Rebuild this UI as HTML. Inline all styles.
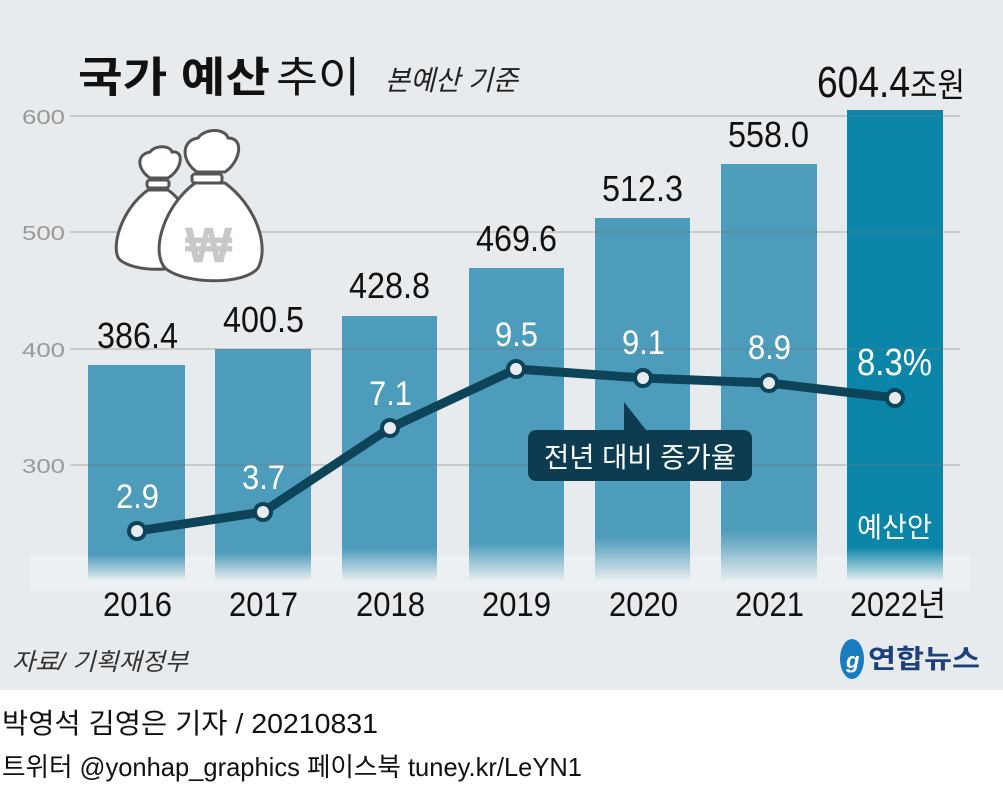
<!DOCTYPE html>
<html><head><meta charset="utf-8"><style>
body{margin:0;width:1003px;height:785px;overflow:hidden;background:#fff;font-family:"Liberation Sans","Noto Sans CJK KR",sans-serif}
</style></head><body>
<svg width="1003" height="785" xmlns="http://www.w3.org/2000/svg" style="position:absolute;left:0;top:0" font-family="Liberation Sans, Noto Sans CJK KR, sans-serif">
<defs>
<linearGradient id="g1" x1="0" y1="0" x2="0" y2="1"><stop offset="0" stop-color="#4d9cbb"/><stop offset="0.88" stop-color="#4d9cbb"/><stop offset="1" stop-color="#4d9cbb" stop-opacity="0.05"/></linearGradient>
<linearGradient id="g2" x1="0" y1="0" x2="0" y2="1"><stop offset="0" stop-color="#0b86a8"/><stop offset="0.93" stop-color="#0b86a8"/><stop offset="1" stop-color="#0b86a8" stop-opacity="0.05"/></linearGradient>
</defs>
<rect x="0" y="0" width="1003" height="690" fill="#e8ebee"/>
<rect x="30" y="555" width="940" height="36" fill="#edf0f2"/>
<text x="78" y="92" font-size="42" font-weight="bold" fill="#111" textLength="192" lengthAdjust="spacingAndGlyphs">국가 예산</text>
<text x="276" y="92" font-size="42" fill="#111" textLength="84" lengthAdjust="spacingAndGlyphs">추이</text>
<text x="385" y="90" font-size="28" font-style="italic" fill="#222" textLength="133" lengthAdjust="spacingAndGlyphs">본예산 기준</text>
<g font-size="20" fill="#999"><text x="22" y="124" textLength="43" lengthAdjust="spacingAndGlyphs">600</text><text x="22" y="240" textLength="43" lengthAdjust="spacingAndGlyphs">500</text><text x="22" y="357" textLength="43" lengthAdjust="spacingAndGlyphs">400</text><text x="22" y="473" textLength="43" lengthAdjust="spacingAndGlyphs">300</text></g>
<rect x="88" y="365" width="97" height="215" fill="url(#g1)"/>
<rect x="215" y="349" width="96" height="231" fill="url(#g1)"/>
<rect x="342" y="316" width="95" height="264" fill="url(#g1)"/>
<rect x="469" y="268" width="95" height="312" fill="url(#g1)"/>
<rect x="595" y="218" width="95" height="362" fill="url(#g1)"/>
<rect x="721" y="164" width="96" height="416" fill="url(#g1)"/>
<rect x="847" y="110" width="96" height="470" fill="url(#g2)"/>
<g stroke="#777" stroke-opacity="0.45" stroke-width="1.3">
<line x1="70" y1="116" x2="960" y2="116"/><line x1="70" y1="232" x2="960" y2="232"/><line x1="70" y1="349" x2="960" y2="349"/><line x1="70" y1="465" x2="960" y2="465"/>
</g>
<g stroke="#555" stroke-width="3" fill="#fff">
<path d="M148 190 C120 210 110 250 120 260 C135 272 175 272 190 262 C200 240 190 205 168 190 Z"/>
<path d="M150 178 C138 170 135 155 150 152 C155 145 170 145 172 152 C185 150 182 170 168 178 Z"/>
<rect x="147" y="180" width="22" height="8" rx="3"/>
<path d="M195 183 C165 205 150 250 165 268 C185 285 245 285 258 268 C270 245 255 205 225 183 Z"/>
<path d="M197 172 C180 160 182 140 198 138 C205 128 225 128 228 138 C245 138 240 162 225 172 Z"/>
<rect x="192" y="174" width="30" height="9" rx="3"/>
</g>
<text x="185" y="262" font-size="50" font-weight="bold" fill="#c8c8c8" font-family="Liberation Sans, sans-serif">₩</text>
<g font-size="36" fill="#111">
<text x="97" y="348" textLength="81" lengthAdjust="spacingAndGlyphs">386.4</text>
<text x="223" y="332" textLength="81" lengthAdjust="spacingAndGlyphs">400.5</text>
<text x="349" y="298" textLength="81" lengthAdjust="spacingAndGlyphs">428.8</text>
<text x="476" y="251" textLength="81" lengthAdjust="spacingAndGlyphs">469.6</text>
<text x="602" y="201" textLength="81" lengthAdjust="spacingAndGlyphs">512.3</text>
<text x="728" y="147" textLength="81" lengthAdjust="spacingAndGlyphs">558.0</text>
<text x="817" y="97" font-size="44" textLength="93" lengthAdjust="spacingAndGlyphs">604.4</text>
<text x="910" y="97" font-size="34" textLength="55" lengthAdjust="spacingAndGlyphs">조원</text>
</g>
<polyline points="137,531 263,512 390,428 516,369 643,378 769,383 895,398" fill="none" stroke="#0d4459" stroke-width="9" stroke-linejoin="round"/>
<g fill="#e8ebee" stroke="#0d4459" stroke-width="4">
<circle cx="137" cy="531" r="8"/><circle cx="263" cy="512" r="8"/><circle cx="390" cy="428" r="8"/><circle cx="516" cy="369" r="8"/><circle cx="643" cy="378" r="8"/><circle cx="769" cy="383" r="8"/><circle cx="895" cy="398" r="8"/>
</g>
<g font-size="34" fill="#fff">
<text x="116" y="508" textLength="43" lengthAdjust="spacingAndGlyphs">2.9</text>
<text x="242" y="489" textLength="43" lengthAdjust="spacingAndGlyphs">3.7</text>
<text x="369" y="405" textLength="43" lengthAdjust="spacingAndGlyphs">7.1</text>
<text x="495" y="346" textLength="43" lengthAdjust="spacingAndGlyphs">9.5</text>
<text x="622" y="354" textLength="43" lengthAdjust="spacingAndGlyphs">9.1</text>
<text x="748" y="359" textLength="43" lengthAdjust="spacingAndGlyphs">8.9</text>
<text x="857" y="375" font-size="38" textLength="75" lengthAdjust="spacingAndGlyphs">8.3%</text>
<text x="857" y="537" font-size="28" textLength="75" lengthAdjust="spacingAndGlyphs">예산안</text>
</g>
<path d="M624 402 L624 430 L646 430 Z" fill="#0d3b4f"/>
<rect x="528" y="430" width="224" height="51" rx="8" fill="#0d3b4f"/>
<text x="544" y="467" font-size="28" fill="#fff" textLength="192" lengthAdjust="spacingAndGlyphs">전년 대비 증가율</text>
<g font-size="34" fill="#111">
<text x="103" y="616" textLength="69" lengthAdjust="spacingAndGlyphs">2016</text>
<text x="229" y="616" textLength="69" lengthAdjust="spacingAndGlyphs">2017</text>
<text x="356" y="616" textLength="69" lengthAdjust="spacingAndGlyphs">2018</text>
<text x="482" y="616" textLength="69" lengthAdjust="spacingAndGlyphs">2019</text>
<text x="609" y="616" textLength="69" lengthAdjust="spacingAndGlyphs">2020</text>
<text x="735" y="616" textLength="69" lengthAdjust="spacingAndGlyphs">2021</text>
<text x="850" y="616" textLength="96" lengthAdjust="spacingAndGlyphs">2022년</text>
</g>
<text x="12" y="670" font-size="24" font-style="italic" fill="#333" textLength="176" lengthAdjust="spacingAndGlyphs">자료/ 기획재정부</text>
<ellipse cx="852" cy="659" rx="12" ry="20" fill="#1a7cc0"/>
<text x="846" y="668" font-size="22" font-style="italic" font-weight="bold" fill="#fff">g</text>
<text x="868" y="668" font-size="26" font-weight="bold" fill="#1d3f7a" textLength="112" lengthAdjust="spacingAndGlyphs">연합뉴스</text>
<text x="2" y="733" font-size="28" fill="#111" textLength="376" lengthAdjust="spacingAndGlyphs">박영석 김영은 기자 / 20210831</text>
<text x="2" y="776" font-size="26" fill="#111" textLength="580" lengthAdjust="spacingAndGlyphs">트위터 @yonhap_graphics  페이스북 tuney.kr/LeYN1</text>
</svg>
</body></html>
